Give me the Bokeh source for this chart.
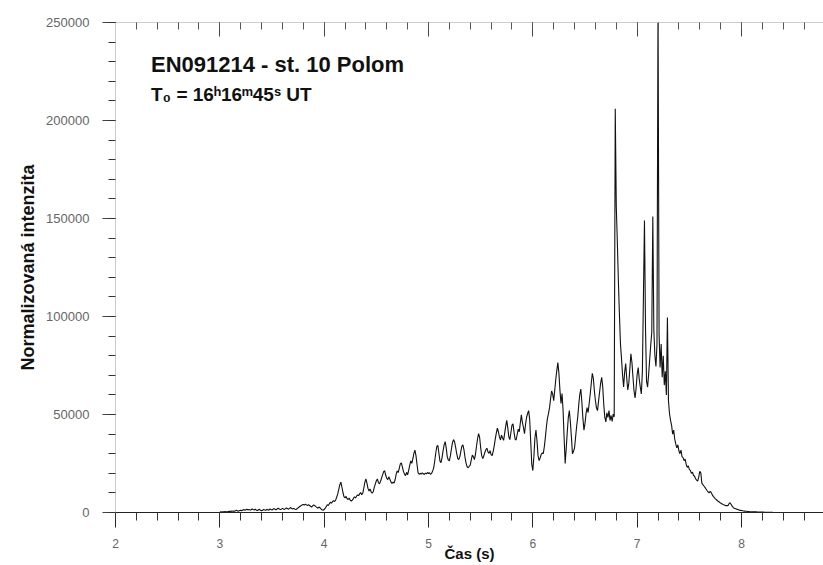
import numpy as np
from bokeh.plotting import figure
from bokeh.models import (LinearAxis, SingleIntervalTicker, BasicTickFormatter,
                          CustomJSTickFormatter, Label, Range1d, ColumnDataSource)
from bokeh.embed import file_html
from bokeh.resources import INLINE

# ---------------- data ----------------
title_text = "EN091214 - st. 10 Polom"
subtitle_text = "T\u2080 = 16\u02b016\u1d5045\u02e2 UT"
x_label = "Čas (s)"
y_label = "Normalizovaná intenzita"

t_start = 3.00          # s, first sample
t_step = 0.01           # s, sampling interval
# normalized intensity in thousands, one row = 0.1 s
intensity_k = [
    0.2, 0.3, 0.2, 0.4, 0.3, 0.5, 0.4, 0.3, 0.5, 0.6,
    0.5, 0.7, 0.6, 0.8, 0.6, 0.9, 1.1, 0.8, 0.7, 1.0,
    1.2, 0.9, 1.3, 1.5, 1.1, 1.4, 1.7, 1.3, 1.6, 1.2,
    1.4, 1.8, 1.5, 1.3, 1.7, 1.2, 1.0, 1.4, 1.6, 1.1,
    0.9, 1.2, 1.5, 1.3, 1.1, 1.6, 1.4, 1.2, 1.8, 1.5,
    1.3, 1.7, 2.0, 1.6, 1.4, 1.9, 2.2, 1.8, 1.5, 1.7,
    2.1, 1.8, 1.6, 2.0, 2.3, 1.9, 1.7, 2.2, 2.5, 2.0,
    1.8, 2.1, 1.7, 1.5, 1.9, 2.4, 2.8, 3.2, 3.6, 3.9,
    4.1, 3.8, 4.3, 3.9, 3.5, 4.0, 3.6, 3.2, 2.8, 3.4,
    3.9, 3.5, 3.0, 2.6, 2.2, 2.8, 2.4, 1.8, 1.4, 1.2,
    1.5, 2.2, 3.1, 4.0, 3.6, 4.5, 5.2, 4.8, 5.5, 6.1,
    5.6, 6.4, 7.8, 9.5, 11.8, 14.2, 15.5, 13.0, 10.2, 8.1,
    7.5, 8.2, 7.0, 6.6, 7.4, 6.2, 5.9, 6.3, 7.1, 8.0,
    7.4, 8.3, 9.0, 8.6, 9.5, 10.2, 9.1, 9.8, 12.5, 15.4,
    17.2, 15.0, 12.3, 11.0, 12.0, 10.5, 9.8, 10.6, 12.8, 14.5,
    16.2, 17.1, 15.3, 14.6, 15.8, 17.5, 19.2, 20.8, 21.3, 19.0,
    17.4, 16.8, 18.2, 17.0, 15.6, 14.8, 15.5, 15.0, 16.7, 19.5,
    21.2, 20.4, 22.6, 24.8, 25.3, 23.1, 21.0, 19.6, 18.8, 20.5,
    19.2, 21.5, 24.0, 26.3, 25.1, 27.4, 30.2, 31.8, 29.0, 24.5,
    20.3, 19.5, 20.0, 19.6, 20.2, 19.8, 19.4, 20.1, 19.7, 20.4,
    19.9, 20.3, 19.5, 20.0, 21.2, 22.8, 26.4, 30.5, 33.8, 34.2,
    30.1, 26.2, 25.4, 28.0, 31.6, 34.5, 36.2, 33.0, 28.4, 26.8,
    26.3, 29.0, 32.5, 35.8, 37.2, 36.0, 33.4, 30.2, 27.6, 27.0,
    28.4, 31.2, 33.9, 34.5, 32.0, 28.1, 25.2, 23.4, 22.8, 23.6,
    24.2, 26.8, 29.3, 28.5, 27.0, 29.6, 33.8, 37.5, 40.2, 38.4,
    33.1, 29.0, 27.5, 28.8, 30.6, 32.1, 32.8, 30.9, 30.2, 31.5,
    29.5, 29.0, 31.2, 34.0, 37.6, 40.5, 43.0, 41.2, 38.6, 37.0,
    39.5, 38.0, 36.8, 40.4, 44.1, 47.0, 43.2, 38.5, 37.2, 40.8,
    44.6, 45.2, 41.0, 37.4, 37.0, 39.8, 42.5, 41.2, 45.6, 49.8,
    46.0, 43.5, 40.2, 44.8, 48.6, 50.5, 52.0, 47.3, 36.0, 24.5,
    21.4, 28.5, 38.0, 42.1, 36.5, 29.0, 26.5, 27.8, 29.6, 30.4,
    30.0, 33.5, 38.2, 43.6, 48.0, 50.4, 53.5, 58.0, 62.0, 60.5,
    57.0, 62.4, 68.0, 72.5, 76.5, 71.0, 62.3, 55.6, 60.7, 52.0,
    38.0, 25.0, 32.5, 41.0, 48.5, 52.0, 46.0, 38.4, 30.0, 31.2,
    33.0, 38.5, 44.0, 48.5, 55.0, 60.2, 63.0, 56.4, 48.0, 42.0,
    45.5, 50.5, 53.5, 51.0, 55.6, 60.3, 65.8, 71.0, 68.5, 62.0,
    57.0, 53.4, 52.0, 56.8, 61.5, 66.0, 69.0, 64.2, 55.0, 48.5,
    46.2, 50.8, 48.5, 52.0, 47.0, 49.5, 46.5, 50.2, 48.8, 206.0,
    156.0, 138.0, 118.0, 101.0, 86.0, 78.5, 70.2, 64.0, 71.5, 76.0,
    68.5, 62.5, 66.0, 73.5, 81.0, 76.5, 69.0, 62.0, 58.5, 63.5,
    70.5, 74.0, 68.0, 64.0, 60.5, 72.0, 110.0, 149.0, 94.0, 67.0,
    64.0, 70.5, 78.0, 85.5, 92.0, 151.0, 93.0, 80.0, 74.5, 86.0,
    262.0, 91.0, 74.0, 86.0, 69.0, 80.0, 65.0, 72.0, 60.0, 99.5,
    57.0, 50.5, 47.0, 44.5, 40.0, 42.0, 37.5, 35.0, 33.0, 34.5,
    31.5, 30.0, 31.8, 28.5, 28.0, 26.5, 27.2, 24.5, 23.0, 23.8,
    22.0, 21.5, 20.0, 20.6, 19.0, 18.5, 17.2, 16.5, 16.0, 18.0,
    21.0, 20.2, 15.0, 14.2, 13.5, 12.8, 12.0, 11.2, 10.5, 10.0,
    10.8, 10.2, 9.0, 8.2, 7.6, 7.0, 6.5, 6.0, 5.6, 5.2,
    4.8, 4.5, 4.2, 3.9, 3.7, 3.5, 3.6, 3.5, 4.5, 5.0,
    4.2, 3.2, 2.6, 2.2, 2.0, 1.8, 1.6, 1.4, 1.2, 1.1,
    1.0, 0.9, 0.8, 0.7, 0.6, 0.6, 0.5, 0.5, 0.4, 0.4,
    0.4, 0.3, 0.3, 0.3, 0.3, 0.2, 0.2, 0.2, 0.2, 0.2,
    0.2, 0.2, 0.1, 0.1, 0.1, 0.1, 0.1, 0.1, 0.1, 0.1, 0.1,
]

x_start, x_end = 2.0, 8.786
y_start, y_end = 0, 250000
x_tick_interval = 1
y_tick_interval = 50000

time_s = np.round(t_start + t_step * np.arange(len(intensity_k)), 2)
intensity = np.array(intensity_k) * 1000.0
source = ColumnDataSource(dict(t=time_s, v=intensity))

FONT = "Liberation Sans"

p = figure(width=823, height=565,
           x_range=Range1d(x_start, x_end), y_range=Range1d(y_start, y_end),
           output_backend="svg", toolbar_location=None,
           min_border_left=115, min_border_right=0,
           min_border_top=22, min_border_bottom=53,
           background_fill_color="white", border_fill_color="white")
p.outline_line_color = None
p.xgrid.visible = False
p.ygrid.visible = False

p.line("t", "v", source=source, line_color="#111111", line_width=1.1)

# bottom axis
xa = p.xaxis[0]
xa.ticker = SingleIntervalTicker(interval=x_tick_interval, num_minor_ticks=5)
xa.axis_line_color = "#222222"
xa.major_tick_line_color = "#222222"
xa.minor_tick_line_color = "#333333"
xa.major_tick_out = 15
xa.major_tick_in = 0
xa.minor_tick_out = 8
xa.minor_tick_in = 0
xa.major_label_standoff = 11
xa.major_label_text_font = FONT
xa.major_label_text_font_size = "12px"
xa.major_label_text_color = "#666666"
xa.axis_label = x_label
xa.axis_label_text_font = FONT
xa.axis_label_text_font_style = "bold"
xa.axis_label_text_font_size = "15px"
xa.axis_label_text_color = "#111111"
xa.axis_label_standoff = -6

# left axis
ya = p.yaxis[0]
ya.ticker = SingleIntervalTicker(interval=y_tick_interval, num_minor_ticks=5)
ya.formatter = BasicTickFormatter(use_scientific=False)
ya.axis_line_color = "#cccccc"
ya.major_tick_line_color = "#444444"
ya.minor_tick_line_color = "#333333"
ya.major_tick_out = 13
ya.major_tick_in = 0
ya.minor_tick_out = 7
ya.minor_tick_in = 0
ya.major_label_standoff = 13
ya.major_label_text_font = FONT
ya.major_label_text_font_size = "13px"
ya.major_label_text_color = "#666666"
ya.axis_label = y_label
ya.axis_label_text_font = FONT
ya.axis_label_text_font_style = "bold"
ya.axis_label_text_font_size = "18px"
ya.axis_label_text_color = "#111111"
ya.axis_label_standoff = 5

# top axis (ticks only)
ta = LinearAxis(ticker=SingleIntervalTicker(interval=x_tick_interval, num_minor_ticks=5),
                formatter=CustomJSTickFormatter(code="return '';"))
ta.axis_line_color = "#cccccc"
ta.major_tick_line_color = "#444444"
ta.minor_tick_line_color = "#555555"
ta.major_tick_in = 14
ta.major_tick_out = 0
ta.minor_tick_in = 7
ta.minor_tick_out = 0
ta.major_label_standoff = 0
p.add_layout(ta, "above")

# texts
p.add_layout(Label(x=2.34, y=228500, text=title_text, text_font=FONT,
                   text_font_style="bold", text_font_size="22px",
                   text_color="#111111", text_baseline="middle", text_align="left"))
p.add_layout(Label(x=2.34, y=213500, text=subtitle_text, text_font=FONT,
                   text_font_style="bold", text_font_size="19px",
                   text_color="#111111", text_baseline="middle", text_align="left"))

open("out.html", "w").write(file_html(p, INLINE))
